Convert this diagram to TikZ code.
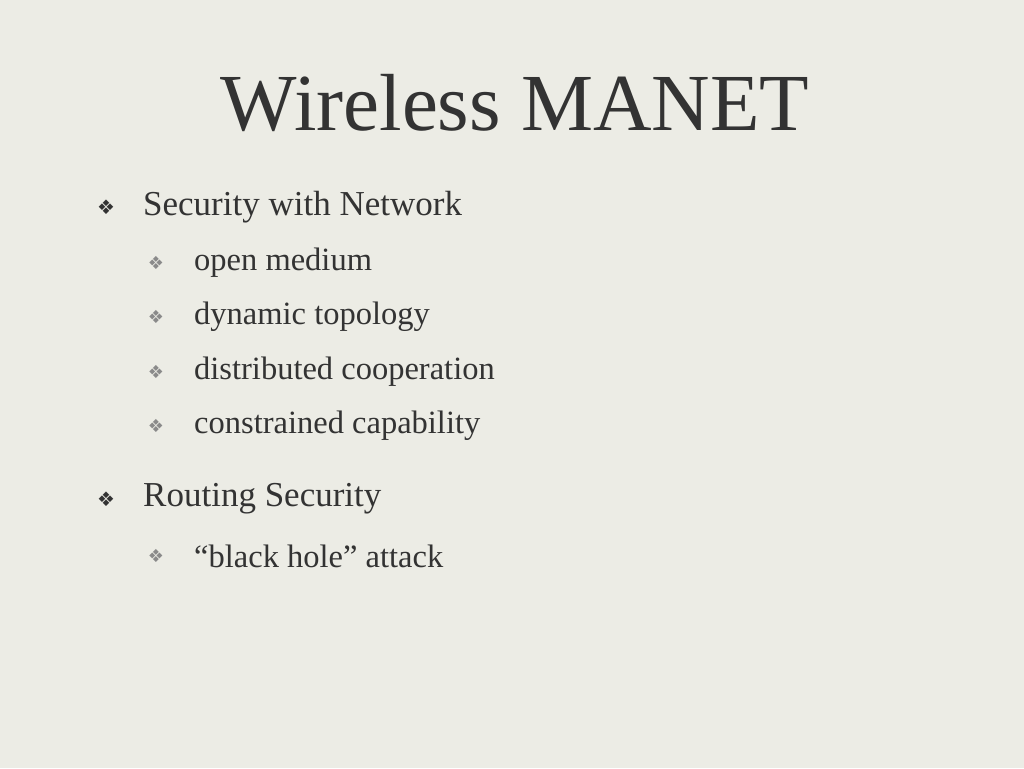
\documentclass[tikz,border=0pt]{standalone}
\usepackage{fontspec}
\setmainfont{Liberation Serif}
\newfontfamily\symf{DejaVu Sans}
\definecolor{bg}{HTML}{ECECE5}
\definecolor{tx}{HTML}{333333}
\definecolor{bl}{HTML}{8A8A8A}
\begin{document}
\begin{tikzpicture}[x=1pt,y=-1pt,
  lone/.style={anchor=west,text=tx,font=\fontsize{35}{37}\selectfont,inner sep=0},
  ltwo/.style={anchor=west,text=tx,font=\fontsize{32.5}{34}\selectfont,inner sep=0},
  bone/.style={text=tx,font=\symf\fontsize{20}{21}\selectfont,inner sep=0},
  btwo/.style={text=bl,font=\symf\fontsize{18}{19}\selectfont,inner sep=0}]
\fill[bg] (0,0) rectangle (1024,768);
\useasboundingbox (0,0) rectangle (1024,768);
\node[text=tx,font=\fontsize{81}{83}\selectfont,inner sep=0] (title) at (515,103) {Wireless MANET};
\node[bone] (b1) at (106,207) {❖};
\node[lone] (t1) at (143,207) {Security with Network};
\node[btwo] (b2) at (156,263) {❖};
\node[ltwo] (t2) at (194,263) {open medium};
\node[btwo] (b3) at (156,317) {❖};
\node[ltwo] (t3) at (194,317) {dynamic topology};
\node[btwo] (b4) at (156,372) {❖};
\node[ltwo] (t4) at (194,372) {distributed cooperation};
\node[btwo] (b5) at (156,426) {❖};
\node[ltwo] (t5) at (194,426) {constrained capability};
\node[bone] (b6) at (106,499) {❖};
\node[lone] (t6) at (143,499) {Routing Security};
\node[btwo] (b7) at (156,556) {❖};
\node[ltwo] (t7) at (194,556) {“black hole” attack};
\end{tikzpicture}
\end{document}
